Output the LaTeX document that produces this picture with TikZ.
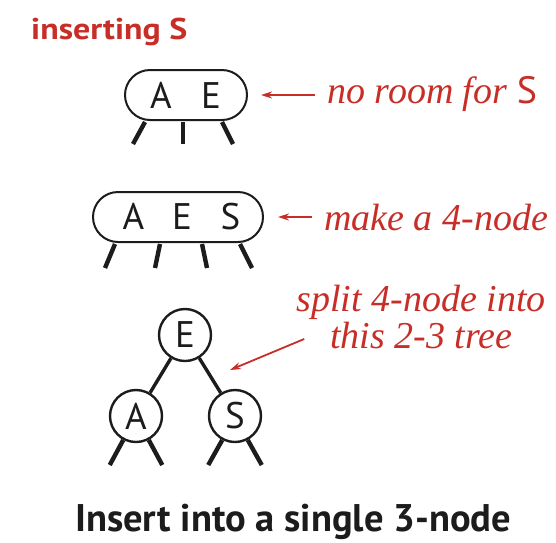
\documentclass[tikz,border=0pt]{standalone}
\usepackage{fontspec}
\setmainfont{Liberation Serif}
\newfontfamily\keyfont{PT Sans}
\usetikzlibrary{arrows.meta,calc}
\definecolor{annot}{RGB}{200,46,40}
\definecolor{ink}{RGB}{28,28,28}
\newcommand{\keyslot}[2]{\makebox[#1]{#2}}
\begin{document}
\begin{tikzpicture}[x=1pt,y=-1pt,
  keynode/.style={draw=ink,line width=2pt,rounded corners=25pt,inner sep=0pt,
    minimum height=50pt,text=ink,font=\keyfont\fontsize{37}{37}\selectfont},
  circ/.style={draw=ink,circle,line width=2.4pt,minimum size=52pt,inner sep=0pt,
    text=ink,font=\keyfont\fontsize{37}{37}\selectfont},
  leg/.style={draw=ink,line width=4.4pt},
  link/.style={draw=ink,line width=3.4pt},
  note/.style={text=annot,font=\itshape\fontsize{38}{37}\selectfont,inner sep=0pt},
  pointer/.style={draw=annot,line width=1.8pt,-{Stealth[length=11pt,width=7pt]}}
]
\useasboundingbox (0,0) rectangle (556,542);

% title
\node[anchor=base west,inner sep=0pt,text=annot,font=\keyfont\bfseries\fontsize{30}{30}\selectfont]
  (title) at (31,39) {\scalebox{1.13}[1]{inserting S}};

% the 3-node with no room for S
\node[keynode,minimum width=122pt] (three) at (186,95)
  {\keyslot{50pt}{A}\keyslot{50pt}{E}};
\draw[leg] ($(three.south)+(-41,1)$) -- ++(-12,22);
\draw[leg] ($(three.south)+(-3,1)$) -- ++(0,22);
\draw[leg] ($(three.south)+(36,1)$) -- ++(11,22);
\node[note,anchor=base west] (t1) at (327,103) {no room for {\upshape\keyfont S}};
\draw[pointer] ($(t1.base west)+(-12,-8)$) -- ($(three.east)+(13,0)$);

% the temporary 4-node
\node[keynode,minimum width=170pt] (four) at (178,217)
  {\hspace{8pt}\keyslot{48.5pt}{A}\keyslot{48.5pt}{E}\keyslot{48.5pt}{S}};
\draw[leg] ($(four.south)+(-63,1)$) -- ++(-10,24);
\draw[leg] ($(four.south)+(-18,1)$) -- ++(-5,24);
\draw[leg] ($(four.south)+(24,1)$) -- ++(5,24);
\draw[leg] ($(four.south)+(62,1)$) -- ++(12,24);
\node[note,anchor=base west] (t2) at (324,230) {make a 4-node};
\draw[pointer] ($(t2.base west)+(-12,-13)$) -- ($(four.east)+(14,0)$);

% the resulting 2-3 tree
\node[circ] (E) at (185,335) {E};
\node[circ] (A) at (136,416) {A};
\node[circ] (S) at (235,416) {S};
\draw[link] (E) -- (A);
\draw[link] (E) -- (S);
\draw[leg] (A.-118) -- ++(-13.5,25);
\draw[leg] (A.-62) -- ++(13.5,25);
\draw[leg] (S.-118) -- ++(-14,25);
\draw[leg] (S.-62) -- ++(14,25);
\node[note,anchor=base] (t3a) at (421,311) {split 4-node into};
\node[note,anchor=base] (t3b) at (421.5,348) {this 2-3 tree};
\coordinate (p3s) at ($(t3b.base west)+(-26,-9)$);
\coordinate (p3e) at (230,370);
\draw[pointer] (p3s) -- (p3e);

% caption
\node[anchor=base west,inner sep=0pt,text=ink,font=\keyfont\bfseries\fontsize{38.5}{38.5}\selectfont]
  (cap) at (75,531) {Insert into a single 3-node};
\end{tikzpicture}
\end{document}
